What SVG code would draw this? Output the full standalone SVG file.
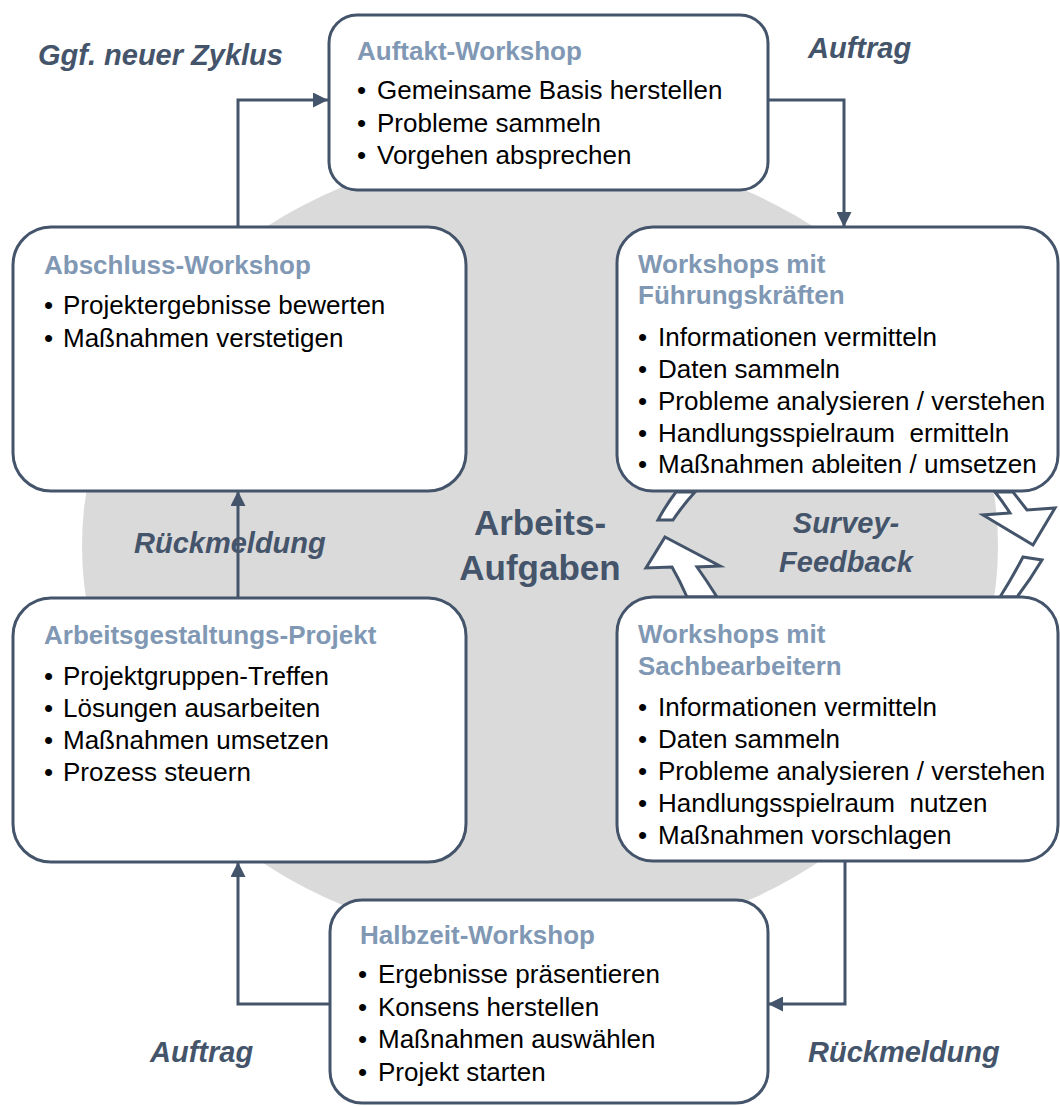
<svg xmlns="http://www.w3.org/2000/svg" width="1060" height="1106" viewBox="0 0 1060 1106">
<style>
.box{fill:#fff;stroke:#44546A;stroke-width:3}
.title{font-family:"Liberation Sans",Arial,sans-serif;font-weight:bold;font-size:26px;fill:#8098B4}
.item{font-family:"Liberation Sans",Arial,sans-serif;font-size:26px;fill:#000;white-space:pre}
.lbl{font-family:"Liberation Sans",Arial,sans-serif;font-weight:bold;font-style:italic;font-size:29px;fill:#44546A}
.center{font-family:"Liberation Sans",Arial,sans-serif;font-weight:bold;font-size:35px;fill:#44546A}
.conn{fill:none;stroke:#44546A;stroke-width:3}
.blk{fill:#fff;stroke:#44546A;stroke-width:3;stroke-linejoin:miter}
</style>
<defs>
<marker id="ah" viewBox="0 0 10 10" refX="10" refY="5" markerWidth="5" markerHeight="5" orient="auto" markerUnits="strokeWidth">
<path d="M0,0 L10,5 L0,10 z" fill="#44546A"/>
</marker>
</defs>
<rect width="1060" height="1106" fill="#fff"/>
<ellipse cx="540" cy="546" rx="458" ry="398" fill="#DADADA"/>

<g id="connectors">
<path class="conn" d="M238,227 V100 H328" marker-end="url(#ah)"/>
<path class="conn" d="M768,100 H844 V227" marker-end="url(#ah)"/>
<path class="conn" d="M238,597 V491" marker-end="url(#ah)"/>
<path class="conn" d="M845,861 V1004 H768" marker-end="url(#ah)"/>
<path class="conn" d="M330,1004 H238 V862" marker-end="url(#ah)"/>
</g>

<g id="survey-arrows">
<path class="blk" d="M676,492 L695,492 Q683,505 673,520 L658,520 Q666,505 676,492 Z"/>
<path class="blk" d="M665,537 L720,566 L697,567 Q707,581 717,597 L687,597 Q680,581 672,567 L646,568 Z"/>
<path class="blk" d="M995,492 L1013,492 Q1020,501 1027,510 L1055,508 L1033,545 L983,515 L1010,513 Q1003,502 995,492 Z"/>
<path class="blk" d="M1023,557 L1042,560 Q1030,580 1017,597 L1000,597 Q1012,578 1023,557 Z"/>
</g>

<g id="node-auftakt">
<rect class="box" x="329" y="15" width="439" height="175" rx="28"/>
<text class="title" x="357" y="60">Auftakt-Workshop</text>
<text class="item" x="357" y="99">•</text><text class="item" x="377" y="99">Gemeinsame Basis herstellen</text>
<text class="item" x="357" y="132">•</text><text class="item" x="377" y="132">Probleme sammeln</text>
<text class="item" x="357" y="164">•</text><text class="item" x="377" y="164">Vorgehen absprechen</text>
</g>

<g id="node-fuehrung">
<rect class="box" x="617" y="227" width="441" height="264" rx="36"/>
<text class="title" x="638" y="273">Workshops mit</text>
<text class="title" x="638" y="304">Führungskräften</text>
<text class="item" x="638" y="346">•</text><text class="item" x="658" y="346">Informationen vermitteln</text>
<text class="item" x="638" y="378">•</text><text class="item" x="658" y="378">Daten sammeln</text>
<text class="item" x="638" y="410">•</text><text class="item" x="658" y="410">Probleme analysieren / verstehen</text>
<text class="item" x="638" y="442">•</text><text class="item" x="658" y="442" xml:space="preserve">Handlungsspielraum  ermitteln</text>
<text class="item" x="638" y="473">•</text><text class="item" x="658" y="473">Maßnahmen ableiten / umsetzen</text>
</g>

<g id="node-sachbearbeiter">
<rect class="box" x="617" y="597" width="441" height="264" rx="36"/>
<text class="title" x="638" y="643">Workshops mit</text>
<text class="title" x="638" y="675">Sachbearbeitern</text>
<text class="item" x="638" y="716">•</text><text class="item" x="658" y="716">Informationen vermitteln</text>
<text class="item" x="638" y="748">•</text><text class="item" x="658" y="748">Daten sammeln</text>
<text class="item" x="638" y="780">•</text><text class="item" x="658" y="780">Probleme analysieren / verstehen</text>
<text class="item" x="638" y="812">•</text><text class="item" x="658" y="812" xml:space="preserve">Handlungsspielraum  nutzen</text>
<text class="item" x="638" y="844">•</text><text class="item" x="658" y="844">Maßnahmen vorschlagen</text>
</g>

<g id="node-halbzeit">
<rect class="box" x="330" y="900" width="438" height="203" rx="32"/>
<text class="title" x="360" y="944">Halbzeit-Workshop</text>
<text class="item" x="358" y="983">•</text><text class="item" x="378" y="983">Ergebnisse präsentieren</text>
<text class="item" x="358" y="1016">•</text><text class="item" x="378" y="1016">Konsens herstellen</text>
<text class="item" x="358" y="1048">•</text><text class="item" x="378" y="1048">Maßnahmen auswählen</text>
<text class="item" x="358" y="1081">•</text><text class="item" x="378" y="1081">Projekt starten</text>
</g>

<g id="node-projekt">
<rect class="box" x="13" y="598" width="453" height="264" rx="38"/>
<text class="title" x="44" y="644">Arbeitsgestaltungs-Projekt</text>
<text class="item" x="44" y="685">•</text><text class="item" x="63" y="685">Projektgruppen-Treffen</text>
<text class="item" x="44" y="717">•</text><text class="item" x="63" y="717">Lösungen ausarbeiten</text>
<text class="item" x="44" y="749">•</text><text class="item" x="63" y="749">Maßnahmen umsetzen</text>
<text class="item" x="44" y="781">•</text><text class="item" x="63" y="781">Prozess steuern</text>
</g>

<g id="node-abschluss">
<rect class="box" x="13" y="227" width="453" height="264" rx="38"/>
<text class="title" x="44" y="274">Abschluss-Workshop</text>
<text class="item" x="44" y="314">•</text><text class="item" x="63" y="314">Projektergebnisse bewerten</text>
<text class="item" x="44" y="347">•</text><text class="item" x="63" y="347">Maßnahmen verstetigen</text>
</g>

<g id="labels">
<text class="lbl" x="38" y="65">Ggf. neuer Zyklus</text>
<text class="lbl" x="808" y="58">Auftrag</text>
<text class="lbl" x="134" y="553">Rückmeldung</text>
<text class="lbl" x="846" y="533" text-anchor="middle">Survey-</text>
<text class="lbl" x="846" y="572" text-anchor="middle">Feedback</text>
<text class="center" x="540" y="535" text-anchor="middle">Arbeits-</text>
<text class="center" x="540" y="580" text-anchor="middle">Aufgaben</text>
<text class="lbl" x="150" y="1062">Auftrag</text>
<text class="lbl" x="808" y="1062">Rückmeldung</text>
</g>
</svg>
